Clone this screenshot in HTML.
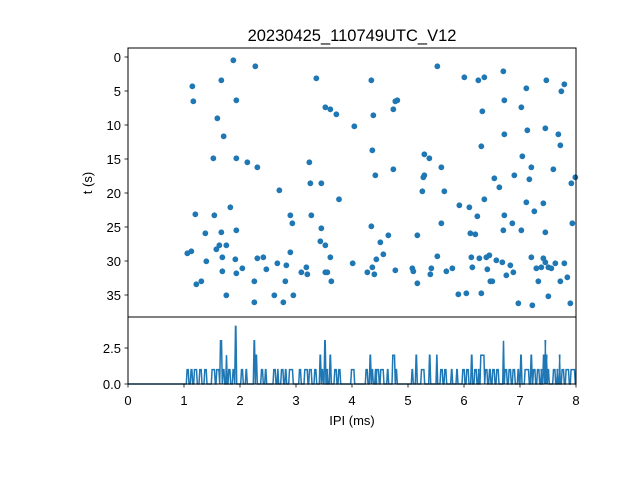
<!DOCTYPE html>
<html><head><meta charset="utf-8"><style>
body{margin:0;background:#fff}
svg text{font-family:"Liberation Sans","DejaVu Sans",sans-serif;fill:#000}
</style></head><body>
<svg id="s" width="640" height="480" xmlns="http://www.w3.org/2000/svg">
<rect width="640" height="480" fill="#fff"/>
<text x="352" y="41" font-size="16.5" text-anchor="middle">20230425_110749UTC_V12</text>
<g id="pts" fill="#1f77b4"></g>
<path id="hist" fill="none" stroke="#1f77b4" stroke-width="1.5" stroke-linejoin="miter"/>
<g stroke="#000" stroke-width="1" fill="none">
<rect x="128" y="48" width="448" height="269"/>
<rect x="128" y="317" width="448" height="67"/>
</g>
<g id="ticks" stroke="#000" stroke-width="0.8"></g>
<g id="labs" font-size="13"></g>
<text x="352" y="425" font-size="13" text-anchor="middle">IPI (ms)</text>
<text transform="translate(92,183) rotate(-90)" font-size="13" text-anchor="middle">t (s)</text>
</svg>
<script>
var z1=[316,37,382,55,280,97,565,91,193,115,196,160,325,157,592,178,607,184,625,199,268,211,287,265,256,331,325,331,358,343,388,358,544,343,547,406,580,406,454,427,633,454,307,478,202,499,259,502,487,502,550,502,493,526,580,541,232,556,280,553,325,547,577,580,592,592,274,592,295,592,265,604,178,616,190,610,487,613,235,640,283,628,322,634,388,631,406,628,607,628,448,646,475,652,343,661,415,664,535,658,283,670,325,676,520,673,538,679,592,673,598,673,205,709,220,700,379,700,472,700,610,700,295,742,439,742,496,742,379,763,466,763];
var z2=[256,55,58,97,337,88,379,97,397,88,454,70,583,97,637,109,628,130,523,121,130,160,136,157,124,184,64,202,457,157,391,190,508,178,7,235,526,247,580,241,457,259,619,259,625,292,388,295,61,307,217,319,232,331,511,325,268,358,538,358,124,364,604,364,70,382,214,388,217,382,427,391,487,382,532,394,442,418,670,388,658,406,211,430,277,430,397,454,523,463,574,466,322,472,352,478,547,490,376,505,457,502,58,535,268,526,481,526,661,526,454,547,508,547,580,553,109,562,196,562,355,556,370,559,85,583,94,619,73,634,256,625,358,628,382,631,403,628,412,622,433,637,451,643,475,652,538,628,574,631,580,643,610,646,637,646,2,646,61,658,46,673,67,679,130,667,181,661,184,670,238,661,235,679,283,670,301,661,361,658,406,664,463,682,484,673,553,661,568,658,589,658,598,661,196,706,415,700,421,700,559,700,625,700,646,688,319,739,343,736,388,736,589,745,499,766,541,772,655,766];
var NS="http://www.w3.org/2000/svg",P=[];
for(var i=0;i<z1.length;i+=2)P.push([128+z1[i]/3,48+z1[i+1]/3]);
for(var i=0;i<z2.length;i+=2)P.push([352+z2[i]/3,48+z2[i+1]/3]);
var g=document.getElementById('pts');
P.forEach(function(p){if(p[0]>578)return;var c=document.createElementNS(NS,'circle');c.setAttribute('cx',p[0]);c.setAttribute('cy',p[1]);c.setAttribute('r',2.9);g.appendChild(c);});
var s3=[[25,33,1],[37,44,1],[47,58,1],[63,72,1],[78,87,1],[100,112,1],[114,125,1],[125,133,3],[133,140,1],[143,148,2],[150,158,1],[163,170,1],[170,176,4],[188,196,1],[202,208,1],[226,232,3],[232,238,2],[248,256,1],[260,266,1],[285,302,1],[308,326,1],[332,346,1],[362,370,1],[378,390,1],[392,402,1],[408,416,1],[424,430,2],[430,436,1],[438,444,3],[446,450,1],[454,460,2],[468,488,1],[518,530,1],[562,570,1],[574,580,2],[580,586,1],[590,596,1]];
var s4=[[0,10,1],[12,24,1],[32,38,1],[48,58,2],[58,64,1],[106,112,1],[118,124,2],[134,146,1],[158,164,2],[180,185,2],[192,212,1],[224,230,1],[240,246,1],[258,282,1],[284,290,2],[294,310,1],[312,326,2],[326,345,1],[348,370,1],[380,385,3],[385,420,1],[424,430,1],[432,438,2],[445,460,1],[463,469,2],[470,498,1],[500,506,2],[506,510,3],[510,514,2],[514,520,1],[530,546,1],[549,553,2],[556,565,1],[568,580,1],[583,598,1]];
var segs=[];
function add(s,o){var a=o+s[0]/3,b=o+s[1]/3;
 if(s[2]==1&&b-a>5){var x=a;while(x<b-1){var e=Math.min(x+3,b);segs.push([x,e,1]);x=e+1;}}
 else segs.push([a,b,s[2]]);}
s3.forEach(function(s){add(s,178);});
s4.forEach(function(s){add(s,376);});
segs.sort(function(a,b){return a[0]-b[0];});
var d='M128,384';
segs.forEach(function(s){var y=(384-s[2]*14.4).toFixed(1);d+=' L'+s[0].toFixed(1)+',384 L'+(s[0]+0.8).toFixed(1)+','+y+' L'+(s[1]-0.8).toFixed(1)+','+y+' L'+s[1].toFixed(1)+',384';});
d+=' L576,384';
document.getElementById('hist').setAttribute('d',d);
var t=document.getElementById('ticks'),l=document.getElementById('labs');
function line(x1,y1,x2,y2){var e=document.createElementNS(NS,'line');e.setAttribute('x1',x1);e.setAttribute('y1',y1);e.setAttribute('x2',x2);e.setAttribute('y2',y2);t.appendChild(e);}
function txt(x,y,s,a){var e=document.createElementNS(NS,'text');e.setAttribute('x',x);e.setAttribute('y',y);e.setAttribute('text-anchor',a);e.textContent=s;l.appendChild(e);}
for(var k=0;k<=8;k++){var x=128+k*56;line(x,384,x,387.5);txt(x,405,k,'middle');}
for(var k=0;k<=7;k++){var y=57+k*34;line(128,y,124.5,y);txt(121,y+5,k*5,'end');}
[[0,'0.0'],[2.5,'2.5']].forEach(function(v){var y=384-v[0]*14.4;line(128,y,124.5,y);txt(121,y+5,v[1],'end');});
</script>
</body></html>
